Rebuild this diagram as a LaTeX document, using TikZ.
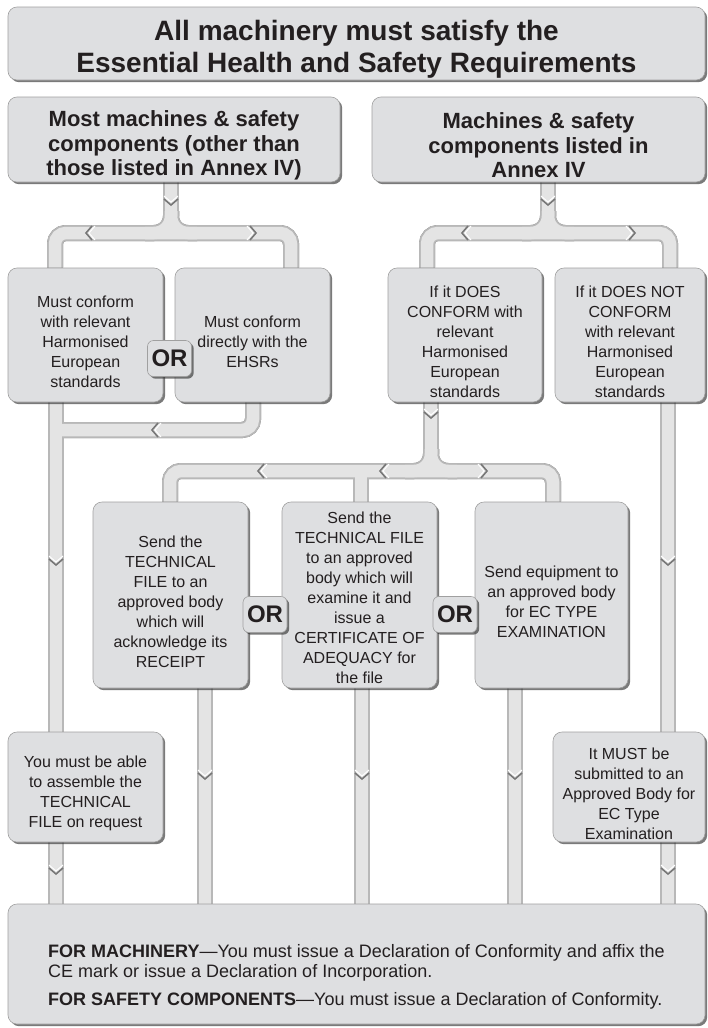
\documentclass[tikz,border=0pt]{standalone}
\usepackage{fontspec}
\setmainfont{Liberation Sans}
\usetikzlibrary{shadows,calc}
\pgfdeclarelayer{back}
\pgfdeclarelayer{pipes}
\pgfsetlayers{back,pipes,main}
\definecolor{boxfill}{HTML}{DEDFE1}
\definecolor{boxline}{HTML}{A0A0A0}
\definecolor{pipefill}{HTML}{E4E4E4}
\definecolor{pipeedge}{HTML}{B8B8B8}
\definecolor{pipeshade}{HTML}{6A6A6A}
\definecolor{txt}{HTML}{231F20}
\definecolor{chevdark}{HTML}{777777}
% first-line struts that lower each text block a little inside its box
\newcommand{\lowB}{\rule{0pt}{24.5pt}}
\newcommand{\lowM}{\rule{0pt}{18pt}}
\newcommand{\lowH}{\rule{0pt}{28pt}}
\newcommand{\lowT}{\rule{0pt}{32.5pt}}
\newcommand{\lowF}{\rule{0pt}{39pt}}
\tikzset{
  box/.style={draw=boxline, line width=0.6pt, fill=boxfill, rounded corners=9pt,
    inner sep=0pt, align=center, text=txt, font=\fontsize{16}{20}\selectfont,
    drop shadow={shadow xshift=2.2pt, shadow yshift=-2.2pt, fill=black!80, opacity=0.65}},
  headbox/.style={box, font=\bfseries\fontsize{22}{24.5}\selectfont},
  titlebox/.style={box, font=\bfseries\fontsize{28}{32}\selectfont},
  orbox/.style={box, rounded corners=6pt, minimum width=44pt, minimum height=36pt,
    font=\bfseries\fontsize{24}{24}\selectfont},
  pipeS/.style={line width=16pt, draw=pipeshade, xshift=1.6pt, yshift=-1.6pt, rounded corners=11pt},
  pipeB/.style={line width=16pt, draw=pipeedge, rounded corners=11pt},
  pipeF/.style={line width=12.5pt, draw=pipefill, xshift=-0.6pt, yshift=0.6pt, rounded corners=11pt},
  chevd/.pic={\draw[chevdark, line width=1.6pt] (-7,-6) -- (0,0) -- (7,-6);
              \draw[white, line width=1pt] (-7,-9) -- (0,-3) -- (7,-9);},
  chevl/.pic={\draw[chevdark, line width=1.6pt] (6,-7) -- (0,0) -- (6,7);
              \draw[white, line width=1pt] (9,-7) -- (3,0) -- (9,7);},
  chevr/.pic={\draw[chevdark, line width=1.6pt] (-6,-7) -- (0,0) -- (-6,7);
              \draw[white, line width=1pt] (-9,-7) -- (-3,0) -- (-9,7);},
}
\newcommand{\flare}[2]{%
  \draw[#1, rounded corners=17pt] ($(#2)+(0,-22)$) -- (#2) -- ($(#2)+(-26,0)$);
  \draw[#1, rounded corners=17pt] ($(#2)+(0,-22)$) -- (#2) -- ($(#2)+(26,0)$);
}
\newcommand{\pipepaths}[1]{%
  \draw[#1] (j1 |- tl.south) -- (j1);
  \draw[#1] (a1 |- mc1.north) -- (a1) -- (a2) -- (a2 |- mc2.north);
  \draw[#1] (j2 |- tr.south) -- (j2);
  \draw[#1] (b1 |- dc.north) -- (b1) -- (b2) -- (b2 |- dnc.north);
  \draw[#1] (c1 |- mc1.south) -- (c1 |- bot.north);
  \draw[#1] (c2 |- mc2.south) -- (c2) -- (c1);
  \draw[#1] (d0 |- dc.south) -- (d0);
  \draw[#1] (d1 |- s1.north) -- (d1) -- (d3) -- (d3 |- s3.north);
  \draw[#1] (d2) -- (d2 |- s2.north);
  \draw[#1] (e1 |- s1.south) -- (e1 |- bot.north);
  \draw[#1] (e2 |- s2.south) -- (e2 |- bot.north);
  \draw[#1] (e3 |- s3.south) -- (e3 |- bot.north);
  \draw[#1] (f1 |- dnc.south) -- (f1 |- bot.north);
  \flare{#1}{j1}
  \flare{#1}{j2}
  \flare{#1}{d0}
}
\begin{document}
\begin{tikzpicture}[x=1pt, y=-1pt]
\useasboundingbox (0,0) rectangle (707,1028);
\begin{pgfonlayer}{back}
  \fill[white] (0,0) rectangle (707,1028);
\end{pgfonlayer}

% boxes
\node[titlebox, minimum width=697pt, minimum height=73pt] (title) at (356.5,43.5)
  {\lowT All machinery must satisfy the\\Essential Health and Safety Requirements};
\node[headbox, minimum width=332pt, minimum height=85pt] (tl) at (174,139.5)
  {\lowH Most machines \& safety\\components (other than\\those listed in Annex IV)};
\node[headbox, minimum width=333pt, minimum height=85pt] (tr) at (538.5,139.5)
  {\lowH Machines \& safety\\components listed in\\Annex IV};
\node[box, minimum width=155pt, minimum height=134pt] (mc1) at (85.5,335)
  {\lowB Must conform\\with relevant\\Harmonised\\European\\standards};
\node[box, minimum width=155pt, minimum height=134pt] (mc2) at (252.5,335)
  {\lowB Must conform\\directly with the\\EHSRs};
\node[box, minimum width=154pt, minimum height=134pt] (dc) at (465,335)
  {\lowB If it DOES\\CONFORM with\\relevant\\Harmonised\\European\\standards};
\node[box, minimum width=150pt, minimum height=134pt] (dnc) at (630,335)
  {\lowB If it DOES NOT\\CONFORM\\with relevant\\Harmonised\\European\\standards};
\node[box, minimum width=155pt, minimum height=186pt] (s1) at (170.5,595)
  {\lowB Send the\\TECHNICAL\\FILE to an\\approved body\\which will\\acknowledge its\\RECEIPT};
\node[box, minimum width=155pt, minimum height=186pt] (s2) at (359.5,595)
  {\lowM Send the\\TECHNICAL FILE\\to an approved\\body which will\\examine it and\\issue a\\CERTIFICATE OF\\ADEQUACY for\\the file};
\node[box, minimum width=153pt, minimum height=186pt] (s3) at (551.5,595)
  {\lowB Send equipment to\\an approved body\\for EC TYPE\\EXAMINATION};
\node[box, minimum width=155pt, minimum height=110pt] (ya) at (85.5,787)
  {\lowB You must be able\\to assemble the\\TECHNICAL\\FILE on request};
\node[box, minimum width=152pt, minimum height=110pt] (im) at (629,787)
  {\lowB It MUST be\\submitted to an\\Approved Body for\\EC Type\\Examination};
\node[box, align=left, minimum width=697pt, minimum height=120pt,
      font=\fontsize{18}{20}\selectfont] (bot) at (356.5,964)
  {\lowF\textbf{FOR MACHINERY}---You must issue a Declaration of Conformity and affix the\\
   CE mark or issue a Declaration of Incorporation.\\[8pt]
   \textbf{FOR SAFETY COMPONENTS}---You must issue a Declaration of Conformity.};
% OR boxes
\node[orbox] (or1) at (169.5,358.5) {OR};
\node[orbox] (or2) at (265,614.5) {OR};
\node[orbox] (or3) at (455,614.5) {OR};

% pipe junction points
\coordinate (j1) at (171,233);
\coordinate (a1) at (55,233);
\coordinate (a2) at (291,233);
\coordinate (j2) at (548,233);
\coordinate (b1) at (427,233);
\coordinate (b2) at (670,233);
\coordinate (c1) at (56,430);
\coordinate (c2) at (253,430);
\coordinate (d0) at (431,471);
\coordinate (d1) at (170,471);
\coordinate (d2) at (361,471);
\coordinate (d3) at (553,471);
\coordinate (e1) at (205,0);
\coordinate (e2) at (362,0);
\coordinate (e3) at (515,0);
\coordinate (f1) at (668,0);

\begin{pgfonlayer}{pipes}
  \pipepaths{pipeS}
  \pipepaths{pipeB}
  \pipepaths{pipeF}
  \pic at (171,205) {chevd};
  \pic at (548,205) {chevd};
  \pic at (86,233) {chevl};
  \pic at (256,233) {chevr};
  \pic at (462,233) {chevl};
  \pic at (635,233) {chevr};
  \pic at (56,565) {chevd};
  \pic at (668,565) {chevd};
  \pic at (152,430) {chevl};
  \pic at (431,418) {chevd};
  \pic at (258,471) {chevl};
  \pic at (380,471) {chevl};
  \pic at (487,471) {chevr};
  \pic at (205,779) {chevd};
  \pic at (362,779) {chevd};
  \pic at (515,779) {chevd};
  \pic at (56,874) {chevd};
  \pic at (668,874) {chevd};
\end{pgfonlayer}
\end{tikzpicture}
\end{document}
